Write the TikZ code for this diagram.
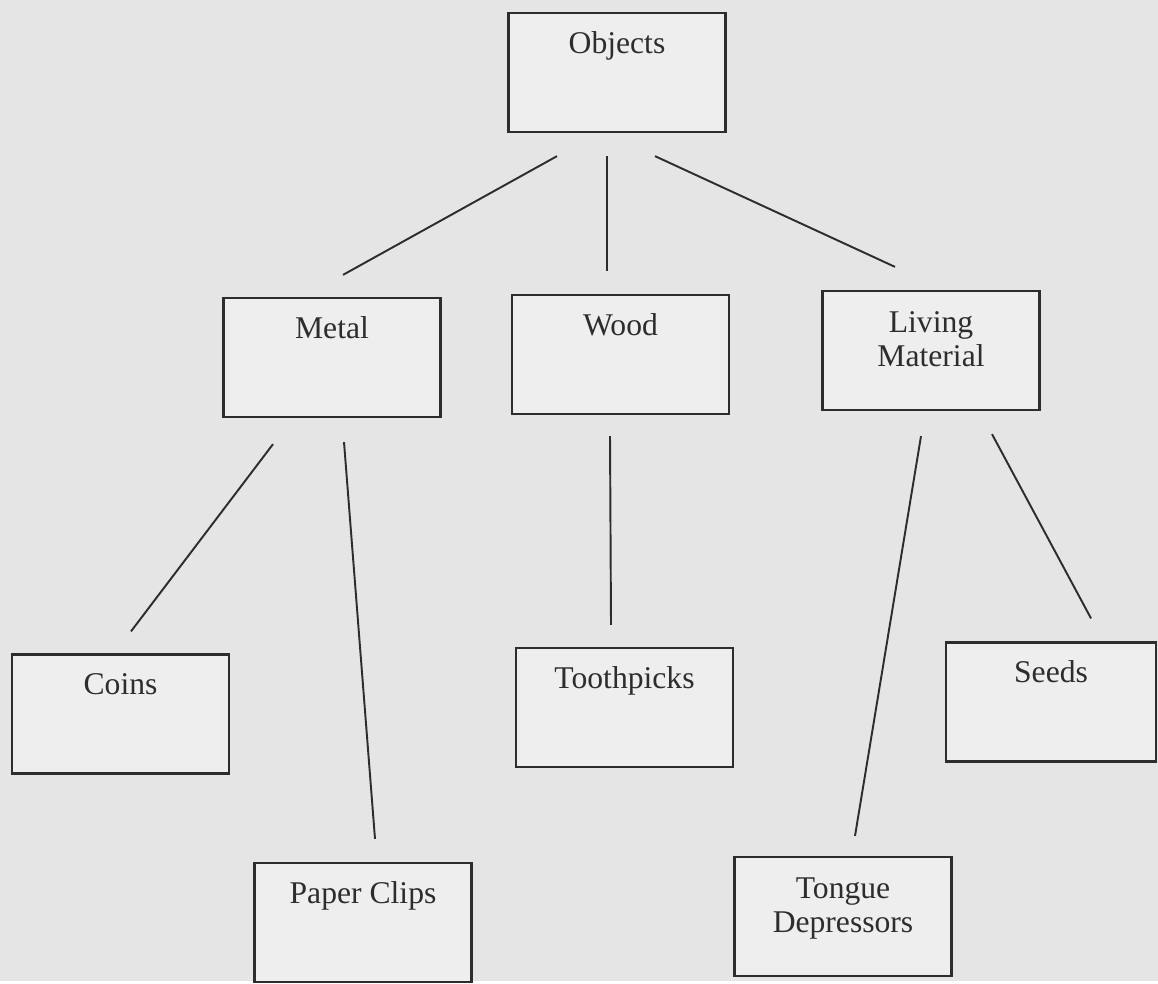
\documentclass[tikz,border=0pt]{standalone}
\usepackage{fontspec}
\setmainfont{Liberation Serif}
\usetikzlibrary{positioning}
\definecolor{scangray}{RGB}{229,229,229}
\definecolor{boxgray}{RGB}{238,238,238}
\definecolor{inkdark}{RGB}{45,45,45}

\begin{document}
\begin{tikzpicture}[x=0.02cm,y=-0.02cm,
    catbox/.style={draw=inkdark,line width=1.3pt,fill=boxgray,inner sep=0pt,
      minimum width=4.34cm,minimum height=2.38cm,align=center,
      font=\fontsize{18}{19}\selectfont,text=inkdark,
      text height=0.8cm,text depth=1.58cm},
    twoline/.style={text height=1.5cm,text depth=0.88cm},
    link/.style={draw=inkdark,line width=1.1pt}]
    \fill[scangray] (0,0) rectangle (1158,981);

    % top level
    \node[catbox] (obj) at (617,72.5) {Objects};
    % materials
    \node[catbox] (metal) at (332,357.5) {Metal};
    \node[catbox] (wood) at (620.5,354.5) {Wood};
    \node[catbox,twoline] (living) at (931,350.5) {Living\\Material};
    % things
    \node[catbox] (coins) at (120.5,714) {Coins};
    \node[catbox] (clips) at (363,922.5) {Paper Clips};
    \node[catbox] (tooth) at (624.5,707.5) {Toothpicks};
    \node[catbox,twoline] (tongue) at (843,916.5) {Tongue\\Depressors};
    \node[catbox,minimum width=4.2cm] (seeds) at (1051,702) {Seeds};

    \draw[link] ([shift={(-60,23)}]obj.south) -- ([shift={(11,-22)}]metal.north);
    \draw[link] ([shift={(-10,23)}]obj.south) -- ([shift={(-13.5,-23)}]wood.north);
    \draw[link] ([shift={(38,23)}]obj.south) -- ([shift={(-36,-23)}]living.north);
    \draw[link] ([shift={(-59,26)}]metal.south) -- ([shift={(10.5,-22)}]coins.north);
    \draw[link] ([shift={(12,24)}]metal.south) -- ([shift={(12,-23)}]clips.north);
    \draw[link] ([shift={(-10.5,21)}]wood.south) -- ([shift={(-13.5,-22)}]tooth.north);
    \draw[link] ([shift={(-10,25)}]living.south) -- ([shift={(12,-20)}]tongue.north);
    \draw[link] ([shift={(61,23)}]living.south) -- ([shift={(40,-23)}]seeds.north);
\end{tikzpicture}
\end{document}
